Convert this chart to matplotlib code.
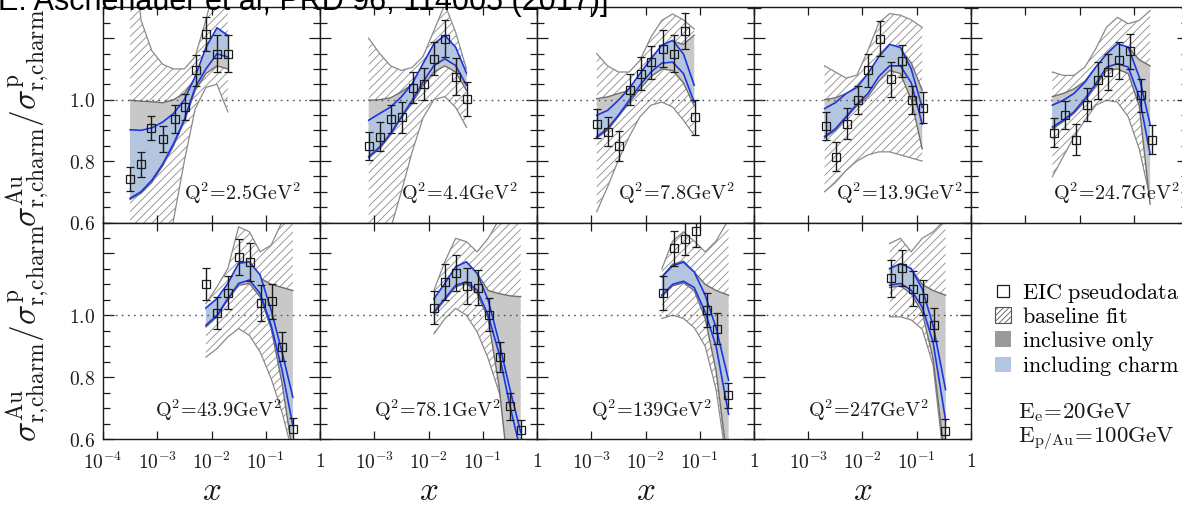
import matplotlib
matplotlib.use("Agg")
import matplotlib.pyplot as plt
from matplotlib.ticker import FixedLocator, NullLocator, MultipleLocator, FixedFormatter
from matplotlib.patches import Patch
from matplotlib.lines import Line2D

plt.rcParams["mathtext.fontset"] = "cm"
plt.rcParams["hatch.linewidth"] = 0.6

# ---------------- data ----------------
Q2_LABELS = ["2.5", "4.4", "7.8", "13.9", "24.7", "43.9", "78.1", "139", "247"]

# x knots of the uncertainty bands, one list per panel
BAND_X = [
    [3.16e-4, 5.0e-4, 7.9e-4, 1.26e-3, 2.0e-3, 3.16e-3, 5.0e-3, 7.9e-3, 1.26e-2, 2.0e-2],
    [7.9e-4, 1.26e-3, 2.0e-3, 3.16e-3, 5.0e-3, 7.9e-3, 1.26e-2, 2.0e-2, 3.16e-2, 5.0e-2],
    [1.26e-3, 2.0e-3, 3.16e-3, 5.0e-3, 7.9e-3, 1.26e-2, 2.0e-2, 3.16e-2, 5.0e-2, 7.9e-2],
    [2.0e-3, 3.16e-3, 5.0e-3, 7.9e-3, 1.26e-2, 2.0e-2, 3.16e-2, 5.0e-2, 7.9e-2, 0.126],
    [3.16e-3, 5.0e-3, 7.9e-3, 1.26e-2, 2.0e-2, 3.16e-2, 5.0e-2, 7.9e-2, 0.126, 0.2],
    [7.9e-3, 1.26e-2, 2.0e-2, 3.16e-2, 5.0e-2, 7.9e-2, 0.126, 0.2, 0.316],
    [1.26e-2, 2.0e-2, 3.16e-2, 5.0e-2, 7.9e-2, 0.126, 0.2, 0.316, 0.5],
    [2.0e-2, 3.16e-2, 5.0e-2, 7.9e-2, 0.126, 0.2, 0.34],
    [3.16e-2, 5.0e-2, 7.9e-2, 0.126, 0.2, 0.34],
]

# baseline fit band (hatched)
BASE_HI = [
    [1.65, 1.26, 1.16, 1.115, 1.10, 1.10, 1.14, 1.26, 1.40, 1.45],
    [1.20, 1.15, 1.11, 1.095, 1.105, 1.14, 1.225, 1.31, 1.22, 1.10],
    [1.15, 1.11, 1.09, 1.09, 1.128, 1.204, 1.258, 1.279, 1.26, 1.23],
    [1.11, 1.09, 1.07, 1.08, 1.16, 1.25, 1.28, 1.275, 1.26, 1.235],
    [1.09, 1.079, 1.079, 1.106, 1.166, 1.236, 1.268, 1.247, 1.258, 1.29],
    [1.038, 1.092, 1.151, 1.286, 1.27, 1.205, 1.227, 1.303, 1.33],
    [1.081, 1.173, 1.249, 1.238, 1.205, 1.249, 1.31, 1.33, 1.33],
    [1.15, 1.24, 1.27, 1.24, 1.205, 1.24, 1.31],
    [1.232, 1.249, 1.205, 1.249, 1.27, 1.31],
]
BASE_LO = [
    [0.0, 0.10, 0.25, 0.43, 0.61, 0.80, 0.97, 1.04, 1.05, 0.96],
    [0.20, 0.38, 0.58, 0.70, 0.83, 0.94, 1.0, 1.01, 0.975, 0.91],
    [0.635, 0.716, 0.803, 0.879, 0.944, 0.982, 0.992, 0.976, 0.933, 0.884],
    [0.70, 0.73, 0.77, 0.80, 0.82, 0.83, 0.83, 0.82, 0.81, 0.80],
    [0.749, 0.814, 0.879, 0.933, 0.982, 0.998, 0.992, 0.944, 0.84, 0.68],
    [0.865, 0.892, 0.93, 0.957, 0.935, 0.881, 0.795, 0.686, 0.55],
    [0.94, 0.989, 1.022, 1.0, 0.946, 0.86, 0.751, 0.62, 0.45],
    [0.99, 1.0, 0.99, 0.96, 0.90, 0.76, 0.48],
    [0.995, 0.995, 0.985, 0.955, 0.84, 0.48],
]

# inclusive-only band (grey)
INCL_HI = [
    [0.998, 0.995, 0.993, 0.99, 1.0, 1.02, 1.07, 1.165, 1.228, 1.203],
    [0.998, 1.0, 1.006, 1.025, 1.05, 1.115, 1.18, 1.205, 1.165, 1.08],
    [1.003, 1.009, 1.02, 1.03, 1.08, 1.128, 1.172, 1.19, 1.18, 1.21],
    [1.0, 1.006, 1.02, 1.04, 1.08, 1.135, 1.175, 1.165, 1.12, 1.03],
    [1.01, 1.02, 1.035, 1.06, 1.106, 1.149, 1.18, 1.17, 1.13, 1.11],
    [1.02, 1.05, 1.10, 1.16, 1.17, 1.12, 1.10, 1.09, 1.08],
    [1.05, 1.10, 1.155, 1.17, 1.135, 1.08, 1.07, 1.063, 1.06],
    [1.125, 1.165, 1.175, 1.14, 1.10, 1.08, 1.065],
    [1.15, 1.165, 1.15, 1.10, 1.08, 1.065],
]
INCL_LO = [
    [0.675, 0.695, 0.73, 0.785, 0.85, 0.93, 1.03, 1.085, 1.11, 1.10],
    [0.81, 0.84, 0.885, 0.94, 0.99, 1.045, 1.09, 1.11, 1.09, 1.03],
    [0.875, 0.90, 0.945, 0.99, 1.035, 1.075, 1.10, 1.095, 1.055, 0.98],
    [0.875, 0.90, 0.94, 0.98, 1.01, 1.06, 1.095, 1.085, 1.0, 0.84],
    [0.905, 0.928, 0.955, 0.995, 1.045, 1.095, 1.10, 1.085, 0.98, 0.66],
    [0.963, 0.995, 1.05, 1.097, 1.103, 1.059, 0.957, 0.78, 0.55],
    [1.006, 1.049, 1.092, 1.103, 1.07, 0.989, 0.77, 0.45, 0.30],
    [1.06, 1.095, 1.105, 1.08, 0.99, 0.82, 0.50],
    [1.09, 1.095, 1.07, 1.01, 0.86, 0.52],
]

# band including charm data (blue)
CHARM_HI = [
    [0.902, 0.90, 0.908, 0.927, 0.955, 1.00, 1.075, 1.17, 1.234, 1.209],
    [0.933, 0.955, 0.976, 1.009, 1.052, 1.117, 1.182, 1.209, 1.171, 1.087],
    [0.949, 0.965, 0.998, 1.036, 1.085, 1.133, 1.177, 1.193, 1.149, 1.047],
    [0.971, 0.99, 1.02, 1.04, 1.085, 1.14, 1.18, 1.17, 1.10, 0.975],
    [0.982, 0.998, 1.02, 1.057, 1.106, 1.149, 1.182, 1.171, 1.074, 0.92],
    [1.024, 1.054, 1.103, 1.168, 1.173, 1.13, 1.016, 0.881, 0.735],
    [1.054, 1.103, 1.157, 1.173, 1.135, 1.049, 0.913, 0.762, 0.622],
    [1.124, 1.16, 1.172, 1.14, 1.065, 0.96, 0.79],
    [1.151, 1.167, 1.151, 1.086, 0.967, 0.76],
]
CHARM_LO = [
    [0.679, 0.70, 0.737, 0.79, 0.857, 0.935, 1.04, 1.10, 1.149, 1.139],
    [0.814, 0.846, 0.89, 0.944, 0.998, 1.057, 1.111, 1.133, 1.111, 1.047],
    [0.879, 0.906, 0.949, 0.998, 1.047, 1.09, 1.119, 1.122, 1.085, 0.992],
    [0.88, 0.905, 0.945, 0.985, 1.02, 1.075, 1.11, 1.11, 1.055, 0.92],
    [0.911, 0.933, 0.96, 1.003, 1.052, 1.106, 1.117, 1.106, 1.009, 0.824],
    [0.968, 1.0, 1.054, 1.103, 1.114, 1.07, 0.968, 0.822, 0.643],
    [1.011, 1.054, 1.097, 1.108, 1.081, 1.0, 0.876, 0.708, 0.56],
    [1.065, 1.10, 1.11, 1.09, 1.01, 0.90, 0.68],
    [1.097, 1.103, 1.081, 1.027, 0.913, 0.66],
]

# EIC pseudodata
DATA_X = [
    [3.16e-4, 5.01e-4, 7.59e-4, 1.26e-3, 2.09e-3, 3.24e-3, 5.13e-3, 7.94e-3, 1.26e-2, 2.0e-2],
    [8.13e-4, 1.29e-3, 2.04e-3, 3.24e-3, 5.13e-3, 8.32e-3, 1.26e-2, 2.04e-2, 3.24e-2, 5.13e-2],
    [1.29e-3, 2.04e-3, 3.31e-3, 5.13e-3, 8.32e-3, 1.29e-2, 2.09e-2, 3.31e-2, 5.37e-2, 8.32e-2],
    [2.09e-3, 3.31e-3, 5.25e-3, 8.32e-3, 1.29e-2, 2.14e-2, 3.31e-2, 5.25e-2, 8.32e-2, 0.132],
    [3.39e-3, 5.37e-3, 8.61e-3, 1.35e-2, 2.16e-2, 3.39e-2, 5.37e-2, 8.51e-2, 0.136, 0.214],
    [7.94e-3, 1.26e-2, 2.04e-2, 3.24e-2, 5.06e-2, 8.13e-2, 0.129, 0.202, 0.318],
    [1.26e-2, 2.0e-2, 3.24e-2, 5.13e-2, 8.13e-2, 0.130, 0.204, 0.324, 0.507],
    [2.09e-2, 3.31e-2, 5.25e-2, 8.41e-2, 0.134, 0.211, 0.337],
    [3.31e-2, 5.28e-2, 8.41e-2, 0.132, 0.211, 0.337],
]
DATA_Y = [
    [0.741, 0.789, 0.908, 0.872, 0.938, 0.977, 1.095, 1.215, 1.149, 1.149],
    [0.848, 0.879, 0.936, 0.942, 1.039, 1.050, 1.133, 1.198, 1.074, 1.003],
    [0.922, 0.896, 0.848, 1.032, 1.085, 1.122, 1.166, 1.149, 1.223, 0.942],
    [0.913, 0.814, 0.922, 0.998, 1.095, 1.198, 1.066, 1.125, 0.998, 0.974],
    [0.893, 0.951, 0.870, 0.984, 1.063, 1.090, 1.128, 1.158, 1.014, 0.870],
    [1.101, 1.008, 1.073, 1.189, 1.173, 1.040, 1.045, 0.899, 0.632],
    [1.024, 1.108, 1.137, 1.094, 1.089, 1.002, 0.865, 0.706, 0.630],
    [1.073, 1.216, 1.246, 1.272, 1.016, 0.957, 0.741],
    [1.119, 1.153, 1.086, 1.057, 0.970, 0.627],
]
DATA_ERR = [
    [0.040, 0.040, 0.040, 0.043, 0.045, 0.043, 0.050, 0.055, 0.060, 0.060],
    [0.046, 0.047, 0.046, 0.049, 0.051, 0.052, 0.054, 0.060, 0.060, 0.056],
    [0.046, 0.046, 0.049, 0.050, 0.053, 0.054, 0.060, 0.060, 0.058, 0.057],
    [0.046, 0.047, 0.050, 0.045, 0.054, 0.057, 0.057, 0.052, 0.046, 0.050],
    [0.048, 0.046, 0.050, 0.053, 0.060, 0.058, 0.060, 0.057, 0.054, 0.046],
    [0.051, 0.051, 0.054, 0.059, 0.061, 0.059, 0.057, 0.046, 0.035],
    [0.053, 0.057, 0.057, 0.059, 0.057, 0.054, 0.048, 0.043, 0.030],
    [0.055, 0.058, 0.052, 0.050, 0.055, 0.049, 0.040],
    [0.059, 0.059, 0.057, 0.057, 0.052, 0.038],
]

X_TICKS = [1e-4, 1e-3, 1e-2, 1e-1, 1]
X_TICK_LABELS = [r"$10^{-4}$", r"$10^{-3}$", r"$10^{-2}$", r"$10^{-1}$", r"$1$"]
Y_TICKS = [0.6, 0.8, 1.0, 1.2]
Y_TICK_LABELS = [r"$0.6$", r"$0.8$", r"$1.0$", ""]

# ---------------- style ----------------
HATCH_C = "#8a8a8a"
GREY_FILL = "#c8c8c8"
GREY_EDGE = "#6f6f6f"
BLUE_FILL = "#b3c5df"
BLUE_EDGE = "#1f35e0"
INK = "#1a1a1a"

W, H = 1182, 511
fig = plt.figure(figsize=(W / 100, H / 100), dpi=100)

COL_LEFT = [103 + 217 * k for k in range(5)]
PANEL_W = 217
ROWS = [(7.5, 222.5), (222.5, 439.0)]
CELLS = [(0, 0), (0, 1), (0, 2), (0, 3), (0, 4), (1, 0), (1, 1), (1, 2), (1, 3)]
Q2_XPOS = [0.375, 0.375, 0.375, 0.38, 0.378, 0.24, 0.25, 0.249, 0.249]
FS_TICK = 14


def make_axes(row, col):
    top, bot = ROWS[row]
    return fig.add_axes([COL_LEFT[col] / W, 1 - bot / H, PANEL_W / W, (bot - top) / H])


for i, (row, col) in enumerate(CELLS):
    ax = make_axes(row, col)
    ax.set_xscale("log")
    ax.set_xlim(1e-4, 1)
    ax.set_ylim(0.6, 1.3)

    x = BAND_X[i]
    ax.fill_between(x, BASE_LO[i], BASE_HI[i], facecolor="white", edgecolor=HATCH_C,
                    hatch="////", linewidth=0, zorder=1)
    ax.plot(x, BASE_LO[i], color=HATCH_C, lw=0.9, zorder=1.2)
    ax.plot(x, BASE_HI[i], color=HATCH_C, lw=0.9, zorder=1.2)

    ax.fill_between(x, INCL_LO[i], INCL_HI[i], facecolor=GREY_FILL, linewidth=0, zorder=2)
    ax.plot(x, INCL_LO[i], color=GREY_EDGE, lw=1.0, zorder=2.2)
    ax.plot(x, INCL_HI[i], color=GREY_EDGE, lw=1.0, zorder=2.2)

    ax.fill_between(x, CHARM_LO[i], CHARM_HI[i], facecolor=BLUE_FILL, linewidth=0, zorder=3)
    ax.plot(x, CHARM_LO[i], color=BLUE_EDGE, lw=1.2, zorder=3.2)
    ax.plot(x, CHARM_HI[i], color=BLUE_EDGE, lw=1.2, zorder=3.2)

    ax.axhline(1.0, color="#555555", lw=1.0, ls=(0, (1.2, 3.2)), zorder=4)

    ax.errorbar(DATA_X[i], DATA_Y[i], yerr=DATA_ERR[i], fmt="s", ms=6, mfc="none",
                mec=INK, mew=0.9, ecolor=INK, elinewidth=1.0, capsize=3, capthick=1.0,
                zorder=6)

    ax.text(Q2_XPOS[i], 0.103, r"$\mathrm{Q^2\!=\!%s GeV^2}$" % Q2_LABELS[i],
            transform=ax.transAxes, fontsize=14.5, va="baseline", ha="left", color=INK)

    # ticks
    ax.xaxis.set_major_locator(FixedLocator(X_TICKS))
    ax.xaxis.set_minor_locator(NullLocator())
    ax.yaxis.set_major_locator(FixedLocator(Y_TICKS))
    ax.yaxis.set_minor_locator(MultipleLocator(0.05))
    ax.tick_params(axis="x", which="major", direction="in", top=True, bottom=True,
                   length=6, width=0.9, colors=INK, labelsize=FS_TICK, pad=9)
    ax.tick_params(axis="y", which="major", direction="in", left=True, right=True,
                   length=8, width=0.9, colors=INK, labelsize=FS_TICK, pad=6)
    ax.tick_params(axis="y", which="minor", direction="in", left=True, right=True,
                   length=5, width=0.9, colors=INK)
    for sp in ax.spines.values():
        sp.set_linewidth(1.0)
        sp.set_color(INK)

    if row == 1:
        labels = list(X_TICK_LABELS)
        if col > 0:
            labels[0] = ""
        ax.xaxis.set_major_formatter(FixedFormatter(labels))
    else:
        ax.set_xticklabels([])
    if col == 0:
        ax.yaxis.set_major_formatter(FixedFormatter(Y_TICK_LABELS))
    else:
        ax.set_yticklabels([])

# axis titles
YLAB = r"$\sigma^{\rm Au}_{\rm r,\!charm}/\sigma^{\rm p}_{\rm r,\!charm}$"
fig.text(28 / W, 1 - 118 / H, YLAB, rotation=90, ha="center", va="center", fontsize=24, color=INK)
fig.text(28 / W, 1 - 333 / H, YLAB, rotation=90, ha="center", va="center", fontsize=24, color=INK)
for col in range(4):
    fig.text((COL_LEFT[col] + PANEL_W / 2) / W, 1 - 490 / H, r"$x$", ha="center", va="center",
             fontsize=24, color=INK)

# legend in the empty cell
handles = [
    Line2D([], [], marker="s", ls="none", ms=8, mfc="white", mec=INK, mew=0.9),
    Patch(facecolor="white", edgecolor="#555555", hatch="//////", linewidth=0.8),
    Patch(facecolor="#9a9a9a", linewidth=0),
    Patch(facecolor=BLUE_FILL, linewidth=0),
]
labels = [r"$\mathrm{EIC\ pseudodata}$", r"$\mathrm{baseline\ fit}$",
          r"$\mathrm{inclusive\ only}$", r"$\mathrm{including\ charm}$"]
fig.legend(handles, labels, loc="upper left", bbox_to_anchor=(995 / W, 1 - 281 / H),
           frameon=False, fontsize=16, handlelength=0.7, handleheight=0.7,
           handletextpad=0.5, labelspacing=0.08, borderaxespad=0, borderpad=0)
fig.text(1018 / W, 1 - 412 / H, r"$\mathrm{E_e\!=\!20GeV}$", fontsize=16.5, va="center", color=INK)
fig.text(1018 / W, 1 - 439 / H, r"$\mathrm{E_{p/Au}\!=\!100GeV}$", fontsize=16.5, va="center", color=INK)

# citation line across the top
fig.text(-0.002, 1 - 10.0 / H, "E. Aschenauer et al, PRD 96, 114005 (2017)]",
         fontsize=22, family="Liberation Sans", va="baseline", ha="left", color="black")

fig.savefig("out.png", dpi=100)
